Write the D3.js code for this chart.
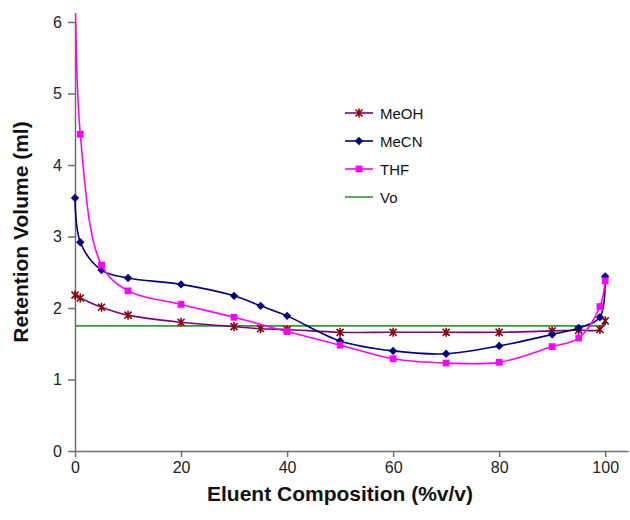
<!DOCTYPE html>
<html>
<head>
<meta charset="utf-8">
<script src="https://cdn.jsdelivr.net/npm/d3@7"></script>
<style>
  body { margin: 0; background: #fff; }
  text { font-family: "Liberation Sans", Arial, sans-serif; }
</style>
</head>
<body>
<script>
// data
var xMeOH = [0, 1, 5, 10, 20, 30, 35, 40, 50, 60, 70, 80, 90, 95, 99, 100];
var meoh = [2.18, 2.14, 2.01, 1.90, 1.80, 1.74, 1.71, 1.70, 1.66, 1.66, 1.66, 1.66, 1.68, 1.69, 1.70, 1.82];

var xMeCN = [0, 1, 5, 10, 20, 30, 35, 40, 50, 60, 70, 80, 90, 95, 99, 100];
var mecn = [3.54, 2.92, 2.53, 2.42, 2.33, 2.17, 2.03, 1.89, 1.54, 1.40, 1.36, 1.47, 1.63, 1.72, 1.87, 2.44];

var xTHF = [0, 1, 5, 10, 20, 30, 40, 50, 60, 70, 80, 90, 95, 99, 100];
var thf = [7.2, 4.43, 2.60, 2.24, 2.05, 1.87, 1.67, 1.48, 1.29, 1.23, 1.24, 1.46, 1.58, 2.02, 2.38];

var xVo = [0, 100];
var vo = [1.75, 1.75];

var seriesNames = ["MeOH", "MeCN", "THF", "Vo"];
var xTicks = [0, 20, 40, 60, 80, 100];
var yTicks = [0, 1, 2, 3, 4, 5, 6];

var svg_width = 630;
var svg_height = 520;

// plot box (note: "top" is taken by window.top, so prefix these)
var plotLeft = 75, plotRight = 628, plotTop = 22, plotBottom = 451;

var svg = d3.select("body").append("svg")
    .attr("width", svg_width)
    .attr("height", svg_height);

var x = d3.scaleLinear().domain([0, 104.3]).range([plotLeft, plotRight]);
var y = d3.scaleLinear().domain([0, 6]).range([plotBottom, plotTop]);

// axes
var yAxis = svg.append("g")
    .attr("transform", "translate(" + plotLeft + ",0)")
    .call(d3.axisLeft(y).tickValues(yTicks).tickFormat(d3.format("d"))
      .tickSize(7).tickSizeOuter(0).tickPadding(6));

var xAxis = svg.append("g")
    .attr("transform", "translate(0," + plotBottom + ")")
    .call(d3.axisBottom(x).tickValues(xTicks).tickFormat(d3.format("d"))
      .tickSize(6).tickSizeOuter(0).tickPadding(5));

svg.selectAll(".domain, .tick line")
    .attr("stroke", "#6e6e6e")
    .attr("stroke-width", 1.5);
svg.selectAll(".tick text")
    .attr("fill", "#222")
    .style("font-size", "16px");

// axis titles
svg.append("text")
    .attr("x", 340)
    .attr("y", 501)
    .attr("text-anchor", "middle")
    .style("font-size", "21px")
    .style("font-weight", "bold")
    .attr("fill", "#111")
    .text("Eluent Composition (%v/v)");

svg.append("text")
    .attr("transform", "translate(28,232) rotate(-90)")
    .attr("text-anchor", "middle")
    .style("font-size", "21px")
    .style("font-weight", "bold")
    .attr("fill", "#111")
    .text("Retention Volume (ml)");

// clip for the plot
svg.append("clipPath").attr("id", "plotclip")
  .append("rect")
    .attr("x", plotLeft - 6)
    .attr("y", 13)
    .attr("width", plotRight - plotLeft + 6)
    .attr("height", plotBottom - 13 + 6);

var plot = svg.append("g").attr("clip-path", "url(#plotclip)");

function pts(xs, ys) {
  return xs.map(function(d, i) { return [d, ys[i]]; });
}

var smooth = d3.line()
    .x(function(d) { return x(d[0]); })
    .y(function(d) { return y(d[1]); })
    .curve(d3.curveCatmullRom.alpha(0.5));

var straight = d3.line()
    .x(function(d) { return x(d[0]); })
    .y(function(d) { return y(d[1]); });

// marker shapes
function starPath(r) {
  return "M" + (-r) + "," + (-r) + "L" + r + "," + r +
         "M" + (-r) + "," + r + "L" + r + "," + (-r) +
         "M0," + (-r - 1) + "L0," + (r + 1);
}
function diamondPath(r) {
  return "M0," + (-r) + "L" + r + ",0L0," + r + "L" + (-r) + ",0Z";
}
function squarePath(r) {
  return "M" + (-r) + "," + (-r) + "h" + (2 * r) + "v" + (2 * r) + "h" + (-2 * r) + "Z";
}

var series = [
  { name: seriesNames[0], data: pts(xMeOH, meoh), line: "#800080", mark: "star", mcol: "#8b0000" },
  { name: seriesNames[1], data: pts(xMeCN, mecn), line: "#000080", mark: "diamond", mcol: "#000080" },
  { name: seriesNames[2], data: pts(xTHF, thf), line: "#ff00ff", mark: "square", mcol: "#ff00ff" },
  { name: seriesNames[3], data: pts(xVo, vo), line: "#339933", mark: null, mcol: null }
];

function drawMarker(g, s) {
  if (s.mark === "star") {
    g.append("path").attr("d", starPath(3.5))
      .attr("stroke", s.mcol).attr("stroke-width", 1.6).attr("fill", "none");
  } else if (s.mark === "diamond") {
    g.append("path").attr("d", diamondPath(4.2)).attr("fill", s.mcol);
  } else if (s.mark === "square") {
    g.append("path").attr("d", squarePath(3.4)).attr("fill", s.mcol);
  }
}

// draw Vo first, then the others on top
[3, 0, 1, 2].forEach(function(k) {
  var s = series[k];
  plot.append("path")
      .attr("d", s.mark ? smooth(s.data) : straight(s.data))
      .attr("fill", "none")
      .attr("stroke", s.line)
      .attr("stroke-width", 1.6);

  if (s.mark) {
    s.data.forEach(function(d) {
      var g = plot.append("g")
          .attr("transform", "translate(" + x(d[0]) + "," + y(d[1]) + ")");
      drawMarker(g, s);
    });
  }
});

// legend
var legendY = [113, 141, 169, 197];
series.forEach(function(s, i) {
  var lg = svg.append("g").attr("transform", "translate(345," + legendY[i] + ")");
  lg.append("line")
      .attr("x1", 0).attr("x2", 28)
      .attr("stroke", s.line)
      .attr("stroke-width", 1.6);
  if (s.mark) {
    var mg = lg.append("g").attr("transform", "translate(14,0)");
    drawMarker(mg, s);
  }
  lg.append("text")
      .attr("x", 35)
      .attr("y", 5.5)
      .style("font-size", "15px")
      .attr("fill", "#111")
      .text(s.name);
});
</script>
</body>
</html>
